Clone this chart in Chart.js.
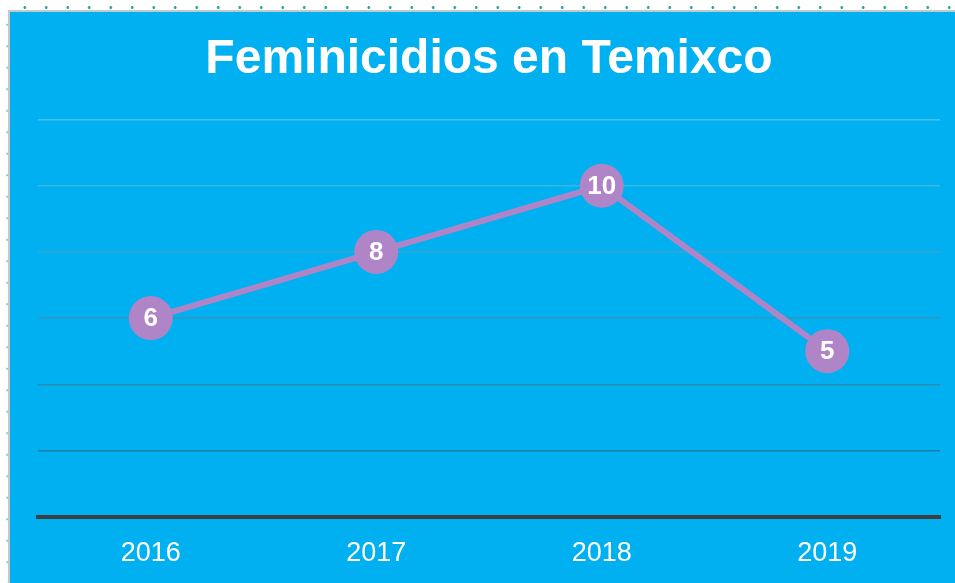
<!DOCTYPE html>
<html>
<head>
<meta charset="utf-8">
<script src="https://cdn.jsdelivr.net/npm/chart.js@4"></script>
<style>
  html, body { margin: 0; padding: 0; background: #fff; }
  #wrap { position: relative; width: 955px; height: 583px; overflow: hidden; }
  #dotsTop { position: absolute; left: 14px; top: 6px; width: 941px; height: 3px;
    background-image: radial-gradient(circle, #1aa89a 1.2px, transparent 1.6px);
    background-size: 21.5px 3px; background-repeat: repeat-x; }
  #dotsLeft { position: absolute; left: 6px; top: 14px; width: 3px; height: 569px;
    background-image: radial-gradient(circle, #7fd0c8 1px, transparent 1.5px);
    background-size: 3px 21.5px; background-repeat: repeat-y; }
  #box { position: absolute; left: 8px; top: 10px; width: 947px; height: 573px;
    background: #00b0f0; border-left: 2px solid #c8c8c8; border-top: 2px solid #c8c8c8; box-sizing: border-box; }
  #c { position: absolute; left: 0; top: 0; }
</style>
</head>
<body>
<div id="wrap">
  <div id="dotsTop"></div>
  <div id="dotsLeft"></div>
  <div id="box"></div>
  <canvas id="c" width="955" height="583"></canvas>
</div>
<script>
var years = ["2016", "2017", "2018", "2019"];
var feminicidios = [6, 8, 10, 5];
var yMax = 12;
var yStep = 2;

var gridColors = {
  0: "#333f48",
  2: "#1b7fa6",
  4: "#2a8cb0",
  6: "#3596b8",
  8: "#3aa4cc",
  10: "#3cb6e0",
  12: "#45c4f0"
};

// numbers drawn inside the points
var pointLabels = {
  id: "pointLabels",
  afterDatasetsDraw: function (chart) {
    var ctx = chart.ctx;
    var meta = chart.getDatasetMeta(0);
    ctx.save();
    ctx.fillStyle = "#ffffff";
    ctx.font = "bold 26px 'Liberation Sans', Arial, sans-serif";
    ctx.textAlign = "center";
    ctx.textBaseline = "middle";
    meta.data.forEach(function (pt, i) {
      ctx.fillText(String(chart.data.datasets[0].data[i]), pt.x, pt.y + 1);
    });
    ctx.restore();
  }
};

var ctx = document.getElementById("c").getContext("2d");
var chart = new Chart(ctx, {
  type: "line",
  data: {
    labels: years,
    datasets: [
      {
        label: "Feminicidios",
        data: feminicidios,
        borderColor: "#b085c8",
        backgroundColor: "#b085c8",
        borderWidth: 6,
        pointRadius: 22,
        pointHoverRadius: 22,
        pointBorderWidth: 0,
        tension: 0,
        clip: false
      }
    ]
  },
  options: {
    responsive: false,
    animation: false,
    events: [],
    layout: { autoPadding: false, padding: { left: 38, right: 15, top: 0, bottom: -8 } },
    plugins: {
      legend: { display: false },
      tooltip: { enabled: false },
      title: {
        display: true,
        text: "Feminicidios en Temixco",
        color: "#ffffff",
        font: { family: "'Liberation Sans', Arial, sans-serif", size: 48, weight: "bold", lineHeight: 1.2 },
        padding: { top: 31, bottom: 31 }
      }
    },
    scales: {
      x: {
        offset: true,
        grid: { display: false, drawTicks: false },
        border: { display: true, color: "#3a3f44", width: 4 },
        ticks: {
          color: "#ffffff",
          padding: 21,
          font: { family: "'Liberation Sans', Arial, sans-serif", size: 27 }
        },
        afterFit: function (scale) {
          scale.paddingLeft = 0;
          scale.paddingRight = 0;
        }
      },
      y: {
        min: 0,
        max: yMax,
        ticks: { display: false, stepSize: yStep },
        border: { display: false },
        grid: {
          drawTicks: false,
          lineWidth: function (c) { return c.tick && c.tick.value === 0 ? 0 : 1.5; },
          color: function (c) { return gridColors[c.tick ? c.tick.value : 0] || "#3aa4cc"; }
        }
      }
    }
  },
  plugins: [pointLabels]
});
</script>
</body>
</html>
